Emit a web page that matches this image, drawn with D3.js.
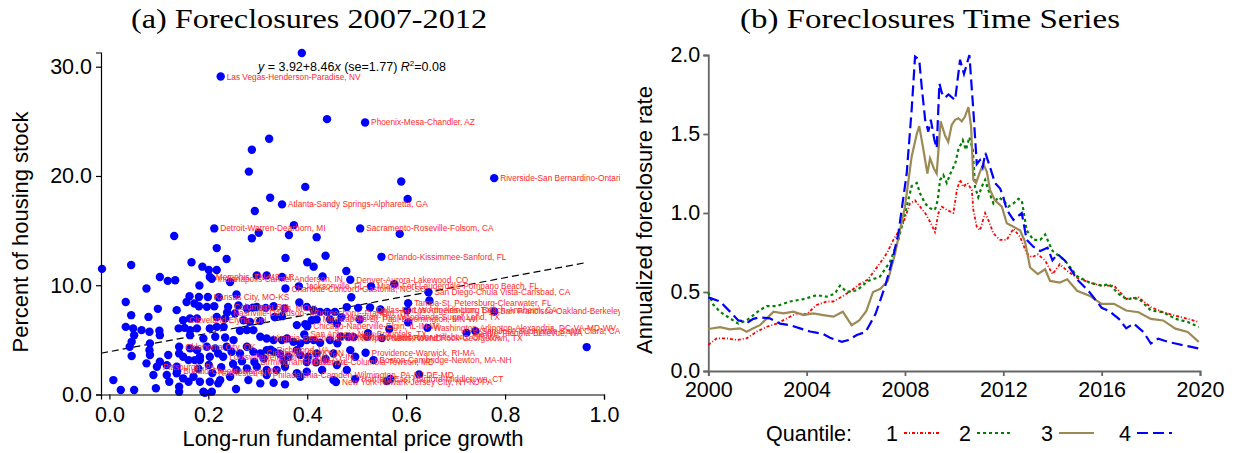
<!DOCTYPE html>
<html><head><meta charset="utf-8">
<script src="https://cdn.jsdelivr.net/npm/d3@7"></script>
<style>body{margin:0;background:#fff}svg{display:block}</style>
</head><body>
<svg id="chart" width="1236" height="453"></svg>
<script>
// ---------- Panel (a) data ----------
const growth = [0.389,0.225,0.44,0.517,0.323,0.288,0.282,0.778,0.59,0.396,0.325,0.603,0.349,0.294,
0.212,0.507,0.373,0.302,0.288,0.363,0.131,0.419,0.587,0.217,0.237,0.356,0.437,0.55,0.166,0.044,-0.015,0.40,0.413,0.188,0.201,0.217,0.479,
0.203,0.207,0.102,0.118,0.133,0.244,0.298,0.318,0.349,0.431,0.487,0.075,0.182,0.356,0.383,0.529,0.576,0.645,0.489,0.647,0.604,0.48,0.503,0.527,0.548,0.602,0.778,0.506,0.604,0.643,0.566,0.523,0.722,0.74,0.494,0.521,0.551,0.468,0.965,0.518,0.534,0.626,0.497,0.561,0.568,
0.162,0.181,0.199,0.221,0.033,0.156,0.172,0.181,0.197,0.212,0.257,0.261,0.24,0.278,0.298,0.316,0.332,0.354,0.384,0.399,0.413,0.426,0.44,0.456,0.29,0.238,0.469,
0.098,0.136,0.044,0.079,0.149,0.163,0.177,0.217,0.234,0.254,0.271,0.284,0.305,0.334,0.349,0.379,0.396,0.409,0.419,0.446,0.46,
0.033,0.048,0.065,0.081,0.101,0.102,0.05,0.045,0.14,0.152,0.163,0.177,0.203,0.217,0.231,0.264,0.278,0.291,0.163,0.19,0.214,0.234,0.251,0.305,0.318,0.332,0.349,0.359,0.372,0.386,0.399,0.413,0.426,0.446,0.461,0.483,0.40,0.394,
0.041,0.082,0.081,0.082,0.045,0.119,0.141,0.141,0.163,0.177,0.183,0.197,0.214,0.22,0.23,0.203,0.183,0.173,0.16,0.149,0.237,0.247,0.264,0.278,0.291,0.305,0.318,0.332,0.345,0.362,0.379,0.386,0.402,0.419,0.453,0.487,0.497,0.326,
0.075,0.096,0.102,0.116,0.136,0.089,0.116,0.136,0.149,0.17,0.183,0.203,0.224,0.244,0.257,0.278,0.298,0.318,0.338,0.355,0.379,0.399,0.43,0.453,0.48,0.008,0.023,0.05,0.094,0.121,0.141,0.141,0.16,0.19,0.207,0.22,0.281,0.305,0.332,0.355,0.386,0.458,0.293,0.399,0.137,0.208,0.318,
0.268,0.312,0.352,0.418,0.437,0.46,0.25,0.226,0.201,0.18,0.193,0.256];
const foreclosed = [31.25,29.1,25.2,24.9,23.4,22.4,20.4,19.8,19.5,19.0,18.0,17.9,17.4,16.8,
15.2,15.2,15.5,14.8,14.3,14.6,14.5,14.4,14.7,13.4,12.4,12.5,12.7,12.6,12.1,11.85,11.5,12.1,11.7,11.7,11.4,11.4,11.3,
10.75,10.6,10.75,10.4,10.45,10.3,10.9,10.9,10.75,10.8,10.5,9.7,9.97,9.7,9.9,9.9,10.1,9.36,8.9,8.6,8.36,8.0,7.93,7.96,7.78,7.7,7.6,6.87,6.6,6.1,6.0,5.6,5.64,5.8,5.25,5.28,5.16,5.3,4.34,3.82,3.15,1.84,1.42,1.23,1.42,
9.0,8.93,8.93,8.9,8.47,8.47,8.33,8.08,8.02,8.08,9.15,8.15,8.02,7.87,8.02,7.93,8.08,7.87,8.42,8.02,7.72,7.56,7.56,7.56,7.95,7.5,7.08,
7.84,7.72,7.26,7.1,6.8,6.96,6.96,7.1,6.96,7.42,6.8,6.65,6.74,7.1,7.17,6.35,6.44,6.8,6.87,6.87,6.5,
6.19,6.05,5.89,5.74,5.83,5.43,5.43,4.82,6.05,6.1,5.89,6.05,6.05,6.19,6.19,5.83,5.89,5.89,5.43,5.13,5.28,5.22,4.98,5.28,5.13,4.98,4.98,5.13,4.82,4.68,4.98,4.98,4.73,4.98,4.68,5.28,6.25,5.5,
4.37,4.68,4.06,3.61,3.52,3.61,4.37,3.76,4.22,4.06,3.45,4.37,4.22,3.76,3.45,3.45,3.15,3.15,3.15,3.45,4.37,3.91,3.76,4.37,3.91,3.76,4.06,3.91,3.7,3.45,4.06,3.61,3.45,3.76,3.76,4.06,3.45,4.1,
2.85,2.54,3.0,2.69,2.54,1.78,1.78,1.94,1.48,1.63,1.17,1.17,1.32,1.63,2.24,2.39,2.54,2.24,2.24,2.54,1.94,2.08,2.24,1.32,2.24,1.32,0.41,0.41,0.57,1.17,0.71,0.26,1.17,0.26,0.26,1.02,1.32,1.02,1.08,0.93,1.63,1.14,2.97,2.97,2.14,1.96,1.78,
3.05,3.3,3.1,2.95,3.25,2.7,2.8,2.5,2.7,2.35,0.15,0.5];

const cityNames = ["Las Vegas-Henderson-Paradise, NV","Phoenix-Mesa-Chandler, AZ","Riverside-San Bernardino-Ontario, CA",
"Atlanta-Sandy Springs-Alpharetta, GA","Detroit-Warren-Dearborn, MI","Sacramento-Roseville-Folsom, CA","Orlando-Kissimmee-Sanford, FL",
"Denver-Aurora-Lakewood, CO","Memphis, TN-MS-AR","Indianapolis-Carmel-Anderson, IN","Jacksonville, FL","Charlotte-Concord-Gastonia, NC-SC",
"Miami-Fort Lauderdale-Pompano Beach, FL","San Diego-Chula Vista-Carlsbad, CA","Kansas City, MO-KS","Tampa-St. Petersburg-Clearwater, FL",
"Columbus, OH","St. Louis, MO-IL","Nashville-Davidson--Murfreesboro--Franklin, TN","Dallas-Fort Worth-Arlington, TX","Los Angeles-Long Beach-Anaheim, CA",
"San Francisco-Oakland-Berkeley, CA","Minneapolis-St. Paul-Bloomington, MN-WI","Houston-The Woodlands-Sugar Land, TX","Cleveland-Elyria, OH",
"Chicago-Naperville-Elgin, IL-IN-WI","Washington-Arlington-Alexandria, DC-VA-MD-WV","San Antonio-New Braunfels, TX","Portland-Vancouver-Hillsboro, OR-WA",
"Seattle-Tacoma-Bellevue, WA","San Jose-Sunnyvale-Santa Clara, CA","Virginia Beach-Norfolk-Newport News, VA-NC","Austin-Round Rock-Georgetown, TX",
"Oklahoma City, OK","Richmond, VA","Louisville/Jefferson County, KY-IN","Cincinnati, OH-KY-IN","Providence-Warwick, RI-MA","Birmingham-Hoover, AL",
"Baltimore-Columbia-Towson, MD","Boston-Cambridge-Newton, MA-NH","Pittsburgh, PA","Buffalo-Cheektowaga, NY","Rochester, NY",
"Philadelphia-Camden-Wilmington, PA-NJ-DE-MD","Hartford-East Hartford-Middletown, CT","New York-Newark-Jersey City, NY-NJ-PA"];
const cityX = [0.225,0.517,0.778,0.349,0.212,0.507,0.55,0.487,0.203,0.207,0.383,0.356,0.529,0.645,0.199,0.604,0.24,0.29,0.238,0.527,0.602,
0.778,0.419,0.469,0.149,0.40,0.643,0.394,0.494,0.722,0.74,0.318,0.551,0.141,0.326,0.23,0.305,0.518,0.293,0.399,0.534,0.096,0.137,0.208,0.318,0.497,0.458];
const cityY = [29.1,24.9,19.8,17.4,15.2,15.2,12.6,10.5,10.75,10.6,9.9,9.7,9.9,9.36,8.93,8.36,8.02,7.95,7.5,7.72,7.7,
7.6,6.87,7.08,6.8,6.25,6.1,5.5,5.25,5.64,5.8,5.13,5.16,4.37,4.1,3.45,3.76,3.82,2.97,2.97,3.15,2.54,2.14,1.96,1.78,1.42,1.14];

const fitIntercept = 3.92, fitSlope = 8.46;
const xTicksA = [0,0.2,0.4,0.6,0.8,1.0];
const yTicksA = [0,10,20,30];

// ---------- Panel (b) data: [year, annualized foreclosure rate] ----------
const q1 = [[2000.0,0.165],[2000.34,0.207],[2000.75,0.207],[2001.16,0.196],[2001.56,0.207],[2001.97,0.249],[2002.38,0.28],[2002.78,0.30],[2003.19,0.333],[2003.6,0.365],[2004.0,0.36],[2004.41,0.418],[2004.82,0.44],[2005.09,0.44],[2005.43,0.47],[2005.83,0.51],[2006.1,0.545],[2006.5,0.58],[2007.0,0.686],[2007.26,0.745],[2007.53,0.83],[2007.93,0.935],[2008.2,1.06],[2008.41,1.08],[2008.61,1.04],[2008.82,1.0],[2009.02,0.945],[2009.22,0.88],[2009.36,1.0],[2009.5,1.04],[2009.7,1.02],[2009.97,1.0],[2010.11,1.146],[2010.24,1.21],[2010.37,1.166],[2010.54,1.19],[2010.72,1.146],[2010.78,1.02],[2010.92,0.913],[2011.05,0.89],[2011.26,1.0],[2011.39,0.956],[2011.6,0.87],[2011.87,0.83],[2012.14,0.83],[2012.41,0.90],[2012.68,0.85],[2012.95,0.745],[2013.16,0.72],[2013.4,0.738],[2013.7,0.70],[2014.0,0.613],[2014.3,0.676],[2014.6,0.634],[2015.0,0.59],[2015.5,0.56],[2016.0,0.54],[2016.5,0.54],[2017.0,0.456],[2017.5,0.466],[2018.0,0.404],[2018.5,0.372],[2019.0,0.35],[2019.5,0.33],[2019.95,0.31]];
const q2 = [[2000.0,0.496],[2000.2,0.42],[2000.48,0.375],[2000.88,0.333],[2001.22,0.30],[2001.56,0.32],[2002.1,0.386],[2002.38,0.41],[2002.78,0.41],[2003.32,0.44],[2003.87,0.455],[2004.41,0.48],[2004.82,0.47],[2005.15,0.49],[2005.36,0.54],[2005.63,0.50],[2006.04,0.51],[2006.5,0.57],[2006.98,0.597],[2007.39,0.69],[2007.73,0.83],[2008.07,1.04],[2008.27,1.17],[2008.48,1.19],[2008.61,1.125],[2008.82,1.06],[2009.02,1.03],[2009.22,1.02],[2009.33,1.08],[2009.43,1.21],[2009.56,1.24],[2009.7,1.19],[2009.9,1.27],[2010.04,1.31],[2010.17,1.40],[2010.35,1.46],[2010.48,1.40],[2010.62,1.48],[2010.76,1.40],[2010.85,1.166],[2010.98,1.10],[2011.12,1.166],[2011.26,1.21],[2011.39,1.146],[2011.6,1.06],[2011.8,1.10],[2012.0,1.08],[2012.2,1.04],[2012.41,1.06],[2012.61,1.09],[2012.75,1.08],[2012.95,0.89],[2013.22,0.83],[2013.5,0.83],[2013.7,0.864],[2014.0,0.76],[2014.5,0.70],[2015.0,0.60],[2015.5,0.56],[2016.0,0.54],[2016.3,0.55],[2016.7,0.487],[2017.0,0.456],[2017.5,0.46],[2018.0,0.383],[2018.5,0.372],[2019.0,0.33],[2019.5,0.31],[2019.95,0.278]];
const q3 = [[2000.0,0.266],[2000.48,0.277],[2000.88,0.264],[2001.29,0.27],[2001.56,0.249],[2001.83,0.27],[2002.1,0.29],[2002.38,0.333],[2002.65,0.375],[2003.05,0.365],[2003.46,0.375],[2003.87,0.354],[2004.27,0.365],[2004.68,0.354],[2005.09,0.344],[2005.47,0.375],[2005.83,0.29],[2006.14,0.32],[2006.43,0.38],[2006.7,0.50],[2007.0,0.52],[2007.3,0.57],[2007.6,0.745],[2008.0,1.04],[2008.27,1.356],[2008.48,1.50],[2008.58,1.55],[2008.75,1.40],[2008.91,1.25],[2009.02,1.346],[2009.18,1.28],[2009.29,1.25],[2009.39,1.46],[2009.45,1.58],[2009.63,1.49],[2009.76,1.45],[2009.9,1.557],[2010.04,1.59],[2010.17,1.60],[2010.31,1.58],[2010.44,1.61],[2010.58,1.67],[2010.69,1.546],[2010.78,1.21],[2010.89,1.19],[2011.05,1.26],[2011.19,1.31],[2011.33,1.26],[2011.46,1.146],[2011.66,1.08],[2011.94,1.04],[2012.14,0.935],[2012.41,0.913],[2012.68,0.89],[2012.88,0.82],[2013.09,0.655],[2013.4,0.613],[2013.7,0.644],[2013.9,0.57],[2014.3,0.56],[2014.6,0.58],[2015.0,0.508],[2015.5,0.477],[2016.0,0.425],[2016.5,0.425],[2017.0,0.383],[2017.5,0.372],[2018.0,0.33],[2018.5,0.32],[2019.0,0.268],[2019.5,0.247],[2019.95,0.184]];
const q4 = [[2000.0,0.466],[2000.48,0.44],[2000.95,0.365],[2001.22,0.32],[2001.63,0.31],[2001.83,0.33],[2002.1,0.34],[2002.5,0.333],[2002.92,0.30],[2003.32,0.29],[2003.73,0.27],[2004.14,0.25],[2004.68,0.234],[2004.95,0.21],[2005.43,0.185],[2005.7,0.196],[2006.04,0.228],[2006.4,0.247],[2006.8,0.36],[2007.2,0.54],[2007.5,0.71],[2007.73,0.87],[2008.07,1.25],[2008.27,1.65],[2008.41,1.99],[2008.58,1.97],[2008.68,1.80],[2008.82,1.59],[2008.95,1.515],[2009.05,1.59],[2009.2,1.46],[2009.29,1.41],[2009.4,1.82],[2009.5,1.76],[2009.63,1.73],[2009.77,1.75],[2010.04,1.715],[2010.24,1.97],[2010.4,1.88],[2010.62,2.0],[2010.78,1.65],[2010.92,1.31],[2011.05,1.335],[2011.16,1.29],[2011.27,1.38],[2011.46,1.29],[2011.66,1.19],[2011.87,1.155],[2012.0,1.10],[2012.14,1.02],[2012.41,0.956],[2012.75,1.0],[2012.95,0.83],[2013.22,0.787],[2013.5,0.76],[2013.8,0.78],[2014.0,0.70],[2014.2,0.74],[2014.5,0.70],[2014.8,0.63],[2015.0,0.58],[2015.5,0.50],[2016.0,0.40],[2016.3,0.38],[2016.7,0.33],[2017.0,0.27],[2017.3,0.30],[2017.7,0.247],[2018.0,0.174],[2018.3,0.205],[2018.7,0.184],[2019.0,0.174],[2019.5,0.157],[2019.95,0.142]];
const quantileLabels = ["1","2","3","4"];
const xTicksB = [2000,2004,2008,2012,2016,2020];
const yTicksB = [0,0.5,1.0,1.5,2.0];

// ---------- drawing ----------
const svg = d3.select("#chart");
const sans = "'Liberation Sans', Arial, sans-serif";
const serif = "'Liberation Serif', 'Times New Roman', serif";
const bigFont = "21.5px";

// Panel (a)
const xA = d3.scaleLinear().domain([-0.017, 1.0]).range([101, 604]);
const yA = d3.scaleLinear().domain([0, 31.3]).range([394.5, 52.5]);
svg.append("defs").append("clipPath").attr("id","clipA").append("rect").attr("x",0).attr("y",0).attr("width",620).attr("height",453);
const gA = svg.append("g").attr("clip-path","url(#clipA)");

svg.append("text").attr("x",131).attr("y",28)
  .attr("textLength",356).attr("lengthAdjust","spacingAndGlyphs")
  .style("font-family",serif).style("font-size","27px").text("(a) Foreclosures 2007-2012");

const axA = svg.append("g").attr("transform","translate(0,394.5)")
  .call(d3.axisBottom(xA).tickValues(xTicksA).tickFormat(d3.format(".1f")).tickSizeOuter(0).tickSize(5));
const ayA = svg.append("g").attr("transform","translate(101,0)")
  .call(d3.axisLeft(yA).tickValues(yTicksA).tickFormat(d3.format(".1f")).tickSizeOuter(0).tickSize(5));
[axA, ayA].forEach(a => {
  a.select(".domain").attr("stroke","#000").attr("stroke-width",1.2);
  a.selectAll(".tick line").attr("stroke","#000").attr("stroke-width",1.2);
  a.selectAll("text").style("font-family",sans).style("font-size",bigFont).attr("fill","#000");
});
axA.selectAll("text").attr("dy","0.9em");
ayA.selectAll("text").attr("dx","-1px");

svg.append("text").attr("x",353).attr("y",446).attr("text-anchor","middle")
  .style("font-family",sans).style("font-size","22px").text("Long-run fundamental price growth");
svg.append("text").attr("transform","translate(28,232) rotate(-90)").attr("text-anchor","middle")
  .style("font-family",sans).style("font-size","22px").text("Percent of housing stock");

// regression line
const xr = [-0.017, 0.965];
gA.append("line").attr("x1",xA(xr[0])).attr("y1",yA(fitIntercept+fitSlope*xr[0]))
  .attr("x2",xA(xr[1])).attr("y2",yA(fitIntercept+fitSlope*xr[1]))
  .attr("stroke","#000").attr("stroke-width",1.2).attr("stroke-dasharray","7,4");

// dots
const pts = growth.map((g,i)=>({x:g,y:foreclosed[i]}));
gA.selectAll("circle.pt").data(pts).enter().append("circle").attr("class","pt")
  .attr("cx",d=>xA(d.x)).attr("cy",d=>yA(d.y)).attr("r",4.2).attr("fill","#0000ff");

// labels
const cities = cityNames.map((n,i)=>({n, x:cityX[i], y:cityY[i]}));
gA.selectAll("text.city").data(cities).enter().append("text").attr("class","city")
  .attr("x",d=>xA(d.x)+6).attr("y",d=>yA(d.y)+3)
  .style("font-family",sans).style("font-size","8.3px").attr("fill","#ff2a2a").text(d=>d.n);

// regression annotation
const ann = svg.append("text").attr("x",258).attr("y",71).style("font-family",sans).style("font-size","12.5px").attr("fill","#000");
ann.append("tspan").style("font-style","italic").text("y");
ann.append("tspan").text(" = " + fitIntercept.toFixed(2) + "+" + fitSlope.toFixed(2));
ann.append("tspan").style("font-style","italic").text("x");
ann.append("tspan").text(" (se=1.77) ");
ann.append("tspan").style("font-style","italic").text("R");
ann.append("tspan").attr("dy","-5").style("font-size","8px").text("2");
ann.append("tspan").attr("dy","5").text("=0.08");

// Panel (b)
const xB = d3.scaleLinear().domain([2000,2020]).range([708.3,1200]);
const yB = d3.scaleLinear().domain([0,2]).range([371,55]);

svg.append("text").attr("x",740).attr("y",28)
  .attr("textLength",380).attr("lengthAdjust","spacingAndGlyphs")
  .style("font-family",serif).style("font-size","27px").text("(b) Foreclosures Time Series");

const axB = svg.append("g").attr("transform","translate(0,371)")
  .call(d3.axisBottom(xB).tickValues(xTicksB).tickFormat(d3.format("d")).tickSizeOuter(0).tickSize(5));
const ayB = svg.append("g").attr("transform","translate(708.3,0)")
  .call(d3.axisLeft(yB).tickValues(yTicksB).tickFormat(d3.format(".1f")).tickSizeOuter(0).tickSize(5));
[axB, ayB].forEach(a => {
  a.select(".domain").attr("stroke","#666").attr("stroke-width",1.8);
  a.selectAll(".tick line").attr("stroke","#666").attr("stroke-width",1.8);
  a.selectAll("text").style("font-family",sans).style("font-size",bigFont).attr("fill","#000");
});
axB.selectAll("text").attr("dy","0.85em");

svg.append("text").attr("transform","translate(652,220) rotate(-90)").attr("text-anchor","middle")
  .style("font-family",sans).style("font-size","22px").text("Annualized foreclosure rate");

const styles = [
  {data:q1, color:"#ff0000", dash:"3,2,1,2", w:1.8},
  {data:q2, color:"#008000", dash:"3,3", w:2.2},
  {data:q3, color:"#9c8a55", dash:null, w:2.2},
  {data:q4, color:"#0000ff", dash:"11,5", w:2.2}
];
const line = d3.line().x(d=>xB(d[0])).y(d=>yB(d[1]));
styles.forEach(s=>{
  svg.append("path").datum(s.data).attr("d",line).attr("fill","none")
    .attr("stroke",s.color).attr("stroke-width",s.w).attr("stroke-dasharray",s.dash);
});

// legend
const legY = 433;
svg.append("text").attr("x",766).attr("y",legY+8).style("font-family",sans).style("font-size",bigFont).text("Quantile:");
const legX = [886, 959, 1041, 1119];
styles.forEach((s,i)=>{
  svg.append("text").attr("x",legX[i]).attr("y",legY+8).style("font-family",sans).style("font-size",bigFont).text(quantileLabels[i]);
  svg.append("line").attr("x1",legX[i]+18).attr("x2",legX[i]+53).attr("y1",legY).attr("y2",legY)
    .attr("stroke",s.color).attr("stroke-width",s.w).attr("stroke-dasharray",s.dash);
});
</script>
</body></html>
